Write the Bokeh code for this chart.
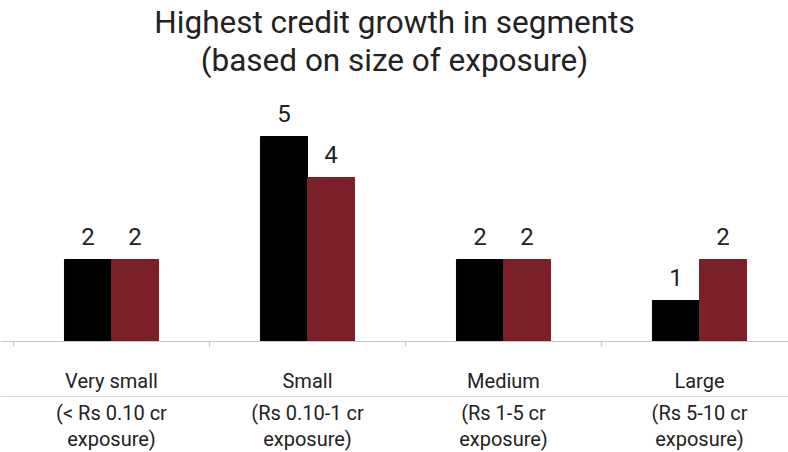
from bokeh.plotting import figure
from bokeh.models import Range1d, Span, ColumnDataSource
from bokeh.core.properties import value
from bokeh.embed import file_html
from bokeh.resources import INLINE

title_lines = ["Highest credit growth in segments", "(based on size of exposure)"]
categories = ["Very small", "Small", "Medium", "Large"]
sublabels_1 = ["(< Rs 0.10 cr", "(Rs 0.10-1 cr", "(Rs 1-5 cr", "(Rs 5-10 cr"]
sublabels_2 = ["exposure)", "exposure)", "exposure)", "exposure)"]
series_a = [2, 5, 2, 1]
series_b = [2, 4, 2, 2]

FONT = "Roboto"
TXT = "#222222"
RED = "#7B1F29"
PX = 41.0  # pixels per unit
CW = 196.0  # pixels per category

p = figure(width=788, height=452, output_backend="svg", toolbar_location=None,
           x_axis_location=None, y_axis_location=None,
           x_range=Range1d(-13 / CW, 775 / CW), y_range=Range1d(-111 / PX, 341 / PX),
           min_border_left=0, min_border_right=0, min_border_top=0, min_border_bottom=0)
p.grid.visible = False
p.outline_line_color = None
p.background_fill_color = "white"
p.border_fill_color = "white"
p.title.visible = False

idx = list(range(len(categories)))
centers = [i + 0.5 for i in idx]
bw = 0.24
src = ColumnDataSource(dict(
    xa=[c - bw / 2 for c in centers], xb=[c + bw / 2 for c in centers],
    a=series_a, b=series_b,
    la=[str(v) for v in series_a], lb=[str(v) for v in series_b],
    cat=categories, s1=sublabels_1, s2=sublabels_2, xc=centers,
))

# title
p.text(x=[381 / CW, 381 / CW], y=[(341 - 22) / PX, (341 - 60) / PX], text=title_lines,
       text_align="center", text_baseline="middle", text_font=value(FONT),
       text_font_size="31.5px", text_color=TXT)

p.vbar(x="xa", top="a", bottom=0, width=bw, color="black", source=src)
p.vbar(x="xb", top="b", bottom=0, width=bw, color=RED, source=src)

p.text(x="xa", y="a", text="la", source=src, text_align="center", text_baseline="middle",
       y_offset=-23, text_font=value(FONT), text_font_size="24px", text_color=TXT)
p.text(x="xb", y="b", text="lb", source=src, text_align="center", text_baseline="middle",
       y_offset=-23, text_font=value(FONT), text_font_size="24px", text_color=TXT)

# axis line and boundary ticks
p.add_layout(Span(location=0, dimension="width", line_color="#C8C8C8", line_width=1.2))
p.segment(x0=idx, y0=[0] * 4, x1=idx, y1=[-0.12] * 4, line_color="#C8C8C8", line_width=1.2)
# separator line
p.add_layout(Span(location=-55 / PX, dimension="width", line_color="#DADADA", line_width=1.2))

p.text(x="xc", y=-39 / PX, text="cat", source=src, text_align="center", text_baseline="middle",
       text_font=value(FONT), text_font_size="20px", text_color=TXT)
p.text(x="xc", y=-71 / PX, text="s1", source=src, text_align="center", text_baseline="middle",
       text_font=value(FONT), text_font_size="20px", text_color=TXT)
p.text(x="xc", y=-97 / PX, text="s2", source=src, text_align="center", text_baseline="middle",
       text_font=value(FONT), text_font_size="20px", text_color=TXT)

open("out.html", "w").write(file_html(p, INLINE))
